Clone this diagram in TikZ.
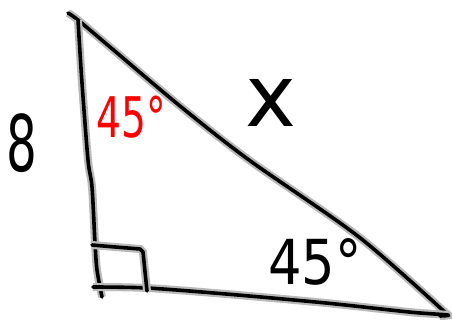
\documentclass[tikz,border=0pt]{standalone}
\usepackage{fontspec}
\setmainfont{DejaVu Sans}
\usetikzlibrary{calc}

\begin{document}
\begin{tikzpicture}[x=1pt,y=-1pt,
    pen/.style={line width=3.6pt, line cap=round, line join=round, draw=black,
      preaction={draw=gray!55, line width=8pt}},
    label/.style={inner sep=0pt, font=\fontsize{#1}{#1}\selectfont}]
      \useasboundingbox (0,0) rectangle (452,320);

      % Vertices
      \coordinate (top) at (78,20);
      \coordinate (corner) at (100,289);
      \coordinate (tip) at (448,315);

      % Hypotenuse
      \draw[pen] plot[smooth, tension=0.5] coordinates
        {(68,13) (top) (110,47) (180,106) (249,160) (359,237) (tip)};

      % Vertical leg
      \draw[pen] plot[smooth, tension=0.5] coordinates
        {(top) (82,83) (88,160) (92,187) (95,243) (97,270) (102,297)};

      % Horizontal leg
      \draw[pen] plot[smooth, tension=0.5] coordinates
        {(93,287) (147,288) (226,294) (326,303) (409,312) (tip) (440,316)};

      % Right angle box
      \draw[pen] (92,245) .. controls (115,247) .. (140,249) -- (143,252) -- (147,291);

      % Labels
      \node[label=78, xscale=0.62] (side) at (22,143) {8};
      \node[label=86] (hyp) at (271,103) {x};
      \node[label=56, xscale=0.7, text=red] (angtop) at (131,117) {45°};
      \node[label=62, xscale=0.85] (angright) at (315,262) {45°};
\end{tikzpicture}
\end{document}
